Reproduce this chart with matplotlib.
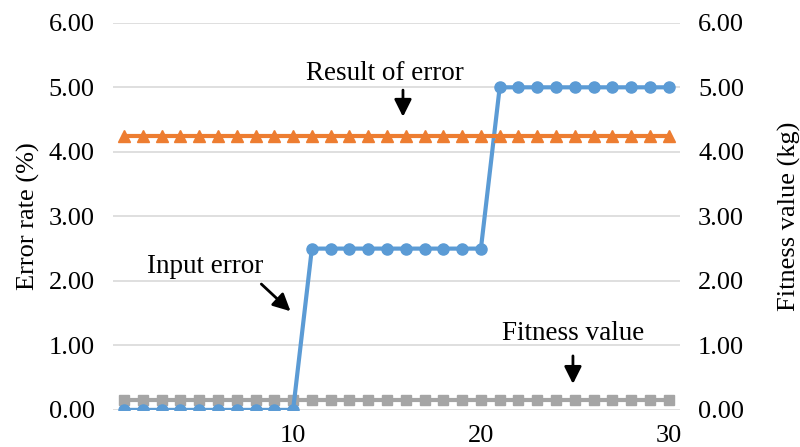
import matplotlib
matplotlib.use("Agg")
import matplotlib.pyplot as plt

plt.rcParams['font.family'] = ['Liberation Serif', 'DejaVu Serif']

# data
x = list(range(1, 31))
input_error = [0.0] * 10 + [2.5] * 10 + [5.0] * 10
result_error = [4.25] * 30
fitness = [0.15] * 30

fig = plt.figure(figsize=(8, 4.47), dpi=100)
ax = fig.add_axes([0.141, 0.083, 0.709, 0.866])
ax2 = ax.twinx()

ax.plot(x, input_error, color='#5B9BD5', lw=3, marker='o', ms=8, zorder=3)
ax.plot(x, result_error, color='#ED7D31', lw=3, marker='^', ms=8.5, zorder=3)
ax2.plot(x, fitness, color='#A5A5A5', lw=3, marker='s', ms=7.5, zorder=3)

for a in (ax, ax2):
    a.set_ylim(0, 6)
    a.set_yticks([0, 1, 2, 3, 4, 5, 6])
    a.set_yticklabels(['%.2f' % v for v in range(7)])
    a.tick_params(axis='both', length=0, labelsize=19, pad=13)
    for s in a.spines.values():
        s.set_visible(False)
ax.set_xlim(0.4, 30.6)
ax.set_xticks([10, 20, 30])
ax.tick_params(axis='x', pad=11)
ax.grid(axis='y', color='#D9D9D9', lw=1.2)
ax.set_axisbelow(True)
ax.set_zorder(ax2.get_zorder() + 1)
ax.patch.set_visible(False)

ax.set_ylabel('Error rate (%)', fontsize=19, labelpad=6)
ax2.set_ylabel('Fitness value (kg)', fontsize=19, labelpad=24)

arrow = dict(arrowstyle='-|>', lw=2, color='black', mutation_scale=26)
ax.annotate('', xy=(15.85, 4.50), xytext=(15.85, 5.0), arrowprops=arrow)
ax.text(14.9, 5.22, 'Result of error', fontsize=19.5, ha='center', va='center')
ax.annotate('', xy=(9.97, 1.50), xytext=(8.2, 1.98), arrowprops=arrow)
ax.text(5.3, 2.22, 'Input error', fontsize=19.5, ha='center', va='center')
ax.annotate('', xy=(24.9, 0.36), xytext=(24.9, 0.88), arrowprops=arrow)
ax.text(24.9, 1.19, 'Fitness value', fontsize=19.5, ha='center', va='center')

fig.savefig('out.png', dpi=100)
